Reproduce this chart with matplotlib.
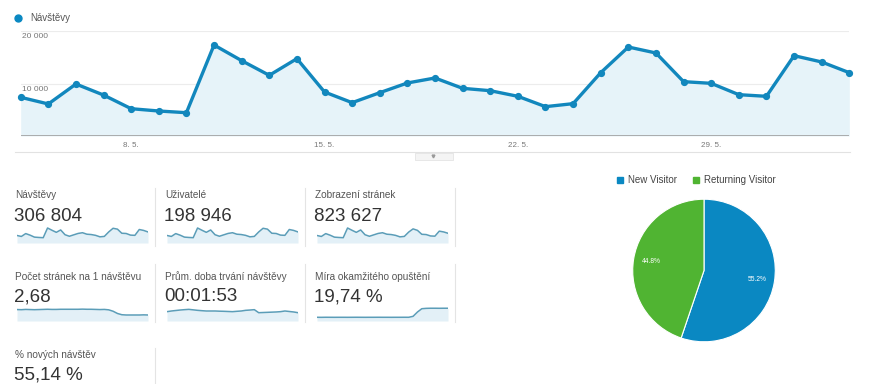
# -*- coding: utf-8 -*-
"""
Google Analytics přehled - Návštěvy (4. 5. - 3. 6.)
"""
import matplotlib
matplotlib.use('Agg')
import matplotlib.pyplot as plt
from matplotlib.lines import Line2D
from matplotlib.patches import Rectangle

plt.rcParams['font.family'] = ['Liberation Sans', 'DejaVu Sans']

W, H = 870, 384

# --- data ---
datumy = ['4. 5.', '5. 5.', '6. 5.', '7. 5.', '8. 5.', '9. 5.', '10. 5.', '11. 5.',
          '12. 5.', '13. 5.', '14. 5.', '15. 5.', '16. 5.', '17. 5.', '18. 5.', '19. 5.',
          '20. 5.', '21. 5.', '22. 5.', '23. 5.', '24. 5.', '25. 5.', '26. 5.', '27. 5.',
          '28. 5.', '29. 5.', '30. 5.', '31. 5.', '1. 6.', '2. 6.', '3. 6.']
popisky_osy = ['8. 5.', '15. 5.', '22. 5.', '29. 5.']

navstevy = [7370, 6100, 9900, 7800, 5200, 4760, 4440, 17330, 14350, 11560, 14730,
            8380, 6350, 8250, 10100, 11050, 9080, 8630, 7560, 5590, 6160, 12060,
            16950, 15810, 10350, 10030, 7870, 7560, 15300, 14100, 12060]
uzivatele = [4790, 3970, 6430, 5070, 3380, 3090, 2890, 11260, 9330, 7510, 9570,
             5450, 4130, 5360, 6570, 7180, 5900, 5610, 4910, 3630, 4000, 7840,
             11020, 10280, 6730, 6520, 5120, 4910, 9950, 9170, 7840]
zobrazeni = [21000, 17400, 28200, 22200, 14800, 13600, 12700, 49400, 40900, 32900, 42000,
             23900, 18100, 23500, 28800, 31500, 25900, 24600, 21500, 15900, 17600, 34000,
             46000, 40500, 25600, 24600, 19300, 18500, 37500, 34500, 29500]
stranek_na_navstevu = [2.84, 2.83, 2.85, 2.84, 2.83, 2.84, 2.85, 2.86, 2.85, 2.85, 2.86,
                       2.86, 2.86, 2.86, 2.86, 2.87, 2.86, 2.86, 2.85, 2.84, 2.85, 2.82,
                       2.72, 2.56, 2.47, 2.45, 2.45, 2.45, 2.45, 2.46, 2.45]
doba_s = [111.9, 113.0, 113.8, 114.6, 115.2, 115.7, 114.9, 114.1, 113.5, 113.0, 113.0,
          113.0, 112.7, 112.5, 112.2, 111.9, 112.5, 113.0, 114.1, 114.6, 115.2, 110.2,
          110.5, 110.8, 111.1, 111.4, 111.9, 113.0, 112.2, 111.4, 110.2]
okamzite_opusteni = [10.0, 9.8, 10.1, 10.0, 9.9, 10.0, 10.0, 9.9, 10.0, 10.1, 10.0,
                     9.9, 10.0, 10.0, 10.1, 10.0, 10.0, 9.9, 10.0, 10.0, 10.1, 10.0,
                     14.0, 32.0, 46.0, 47.5, 48.0, 48.0, 47.8, 48.0, 48.0]

metriky = [
    ('Návštěvy', '306 804'),
    ('Uživatelé', '198 946'),
    ('Zobrazení stránek', '823 627'),
    ('Počet stránek na 1 návštěvu', '2,68'),
    ('Prům. doba trvání návštěvy', '00:01:53'),
    ('Míra okamžitého opuštění', '19,74 %'),
    ('% nových návštěv', '55,14 %'),
]

typy_navstevniku = ['New Visitor', 'Returning Visitor']
podily = [55.2, 44.8]

MODRA = '#0a88c2'
ZELENA = '#50B432'


def rect(x0, y0, x1, y1):
    """pixely -> souřadnice figury"""
    return [x0 / W, 1 - y1 / H, (x1 - x0) / W, (y1 - y0) / H]


def ftext(x, y, s, **kw):
    kw.setdefault('va', 'center')
    return fig.text(x / W, 1 - y / H, s, **kw)


def fline(xs, ys, **kw):
    fig.add_artist(Line2D([x / W for x in xs], [1 - y / H for y in ys],
                          transform=fig.transFigure, **kw))


fig = plt.figure(figsize=(W / 100, H / 100), dpi=100)
fig.patch.set_facecolor('white')

# --- hlavní graf ---
ax = fig.add_axes(rect(20.7, 31, 849.3, 136))
x = list(range(len(navstevy)))
ax.fill_between(x, navstevy, 0, color='#e6f3f9', lw=0)
ax.axhline(10000, color='#ececec', lw=0.8, zorder=0)
ax.axhline(20000, color='#ececec', lw=0.8, zorder=0)
ax.axhline(0, color='#a0a0a0', lw=1.2)
ax.plot(x, navstevy, color='#1287bd', lw=2.4, marker='o', ms=4.2, clip_on=False, zorder=3)
ax.set_xlim(0, len(navstevy) - 1)
ax.set_ylim(0, 20000)
for s in ax.spines.values():
    s.set_visible(False)
ax.set_yticks([])
ax.set_xticks([datumy.index(d) for d in popisky_osy])
ax.set_xticklabels(popisky_osy)
ax.tick_params(axis='x', length=0, pad=4, labelsize=5.8, labelcolor='#777')
ax.text(0.05, 19550, '20 000', va='top', ha='left', fontsize=6, color='#777')
ax.text(0.05, 9550, '10 000', va='top', ha='left', fontsize=6, color='#777')

# legenda nahoře
fline([18], [18], marker='o', ms=5, color=MODRA, lw=0)
ftext(30, 18, 'Návštěvy', fontsize=7, color='#555')

# oddělovač a tlačítko
fline([15, 850], [152, 152], color='#e2e2e2', lw=0.8)
fig.add_artist(Rectangle((415 / W, 1 - 160 / H), 38 / W, 7 / H, transform=fig.transFigure,
                         facecolor='#f4f4f4', edgecolor='#e4e4e4', lw=0.6))
fline([433.5], [155.5], marker='v', ms=2, color='#999', lw=0)

# --- metriky ---
sloupce = [15, 165, 315]
radky = [(195, 216.5, 225, 243), (276.5, 296.5, 303, 321), (355, 375, None, None)]
spark_data = [navstevy, uzivatele, zobrazeni, stranek_na_navstevu, doba_s, okamzite_opusteni]
spark_ylim = [(-2600, 21300), (-1700, 13850), (-7300, 60700),
              (2.02, 3.31), (96.5, 126.2), (-5.6, 70)]

for i, (nazev, hodnota) in enumerate(metriky):
    r, c = divmod(i, 3)
    x0 = sloupce[c]
    ty, vy, sy0, sy1 = radky[r]
    ftext(x0, ty, nazev, fontsize=7.2, color='#555')
    ftext(x0 - 0.5, vy, hodnota, fontsize=13.5, color='#333')
    if i < len(spark_data):
        sa = fig.add_axes(rect(x0 + 2, sy0, x0 + 133, sy1))
        d = spark_data[i]
        lo, hi = spark_ylim[i]
        sa.fill_between(range(len(d)), d, lo, color='#e3f0f7', lw=0)
        sa.plot(range(len(d)), d, color='#5b9db8', lw=1.1)
        sa.set_xlim(0, len(d) - 1)
        sa.set_ylim(lo, hi)
        sa.axis('off')

# svislé oddělovače
for xs in [155, 305, 455]:
    fline([xs, xs], [188, 246], color='#e4e4e4', lw=0.8)
    fline([xs, xs], [264, 322], color='#e4e4e4', lw=0.8)
fline([155, 155], [348, 384], color='#e4e4e4', lw=0.8)

# --- koláč nových a vracejících se návštěvníků ---
pa = fig.add_axes(rect(632, 198.5, 776, 342.5))
wedges, texts, autotexts = pa.pie(
    podily, colors=[MODRA, ZELENA], startangle=90, counterclock=False,
    autopct='%.1f%%', pctdistance=0.75,
    wedgeprops=dict(edgecolor='white', linewidth=0.8),
    textprops=dict(color='white', fontsize=4.8))
pa.set_xlim(-1.01, 1.01)
pa.set_ylim(-1.01, 1.01)
pa.set_aspect('equal')

fline([620.5], [180], marker='s', ms=4.5, color=MODRA, lw=0)
ftext(628, 180, typy_navstevniku[0], fontsize=7, color='#444')
fline([696.5], [180], marker='s', ms=4.5, color=ZELENA, lw=0)
ftext(704, 180, typy_navstevniku[1], fontsize=7, color='#444')

fig.savefig('out.png', dpi=100)
plt.close()
